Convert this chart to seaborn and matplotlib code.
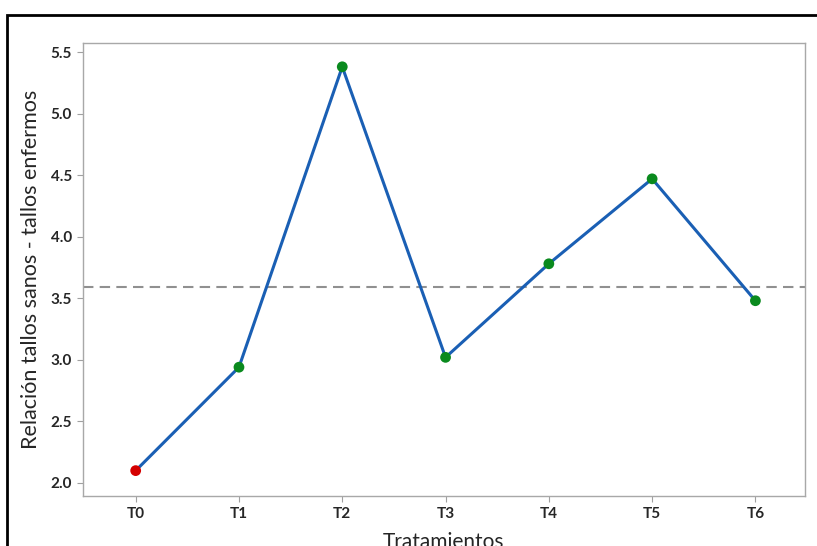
import matplotlib
matplotlib.use('Agg')
import matplotlib.pyplot as plt
import matplotlib.patches as mpatches
import seaborn as sns
import pandas as pd

# datos
tratamientos = ['T0', 'T1', 'T2', 'T3', 'T4', 'T5', 'T6']
relacion = [2.10, 2.94, 5.38, 3.02, 3.78, 4.47, 3.48]
grupo = ['bajo', 'ok', 'ok', 'ok', 'ok', 'ok', 'ok']
media = 3.592

df = pd.DataFrame({'trat': tratamientos, 'rel': relacion, 'grupo': grupo})
df['x'] = range(len(df))

sns.set_style('white')
plt.rcParams['font.family'] = ['Lato', 'DejaVu Sans']

fig = plt.figure(figsize=(8.17, 5.46), dpi=100)
ax = fig.add_axes([0.1016, 0.0916, 0.8837, 0.8296])

sns.lineplot(data=df, x='x', y='rel', color='#1a5fb4', linewidth=2.2, ax=ax, zorder=2)
sns.scatterplot(data=df, x='x', y='rel', hue='grupo',
                palette={'bajo': '#d40000', 'ok': '#0a8a1e'},
                s=60, edgecolor='none', legend=False, ax=ax, zorder=3)
ax.axhline(media, color='#909090', linestyle=(0, (5, 3)), linewidth=1.5, zorder=1)

ax.set_xlim(-0.51, 6.48)
ax.set_ylim(1.894, 5.573)
ax.set_xticks(df['x'])
ax.set_xticklabels(tratamientos)
ax.set_yticks([2.0, 2.5, 3.0, 3.5, 4.0, 4.5, 5.0, 5.5])
ax.set_yticklabels(['2.0', '2.5', '3.0', '3.5', '4.0', '4.5', '5.0', '5.5'])
for lab in ax.get_xticklabels() + ax.get_yticklabels():
    lab.set_fontweight('bold')
    lab.set_fontsize(11)
ax.tick_params(axis='both', direction='out', length=4, width=0.8,
               color='#a0a0a0', bottom=True, left=True, pad=4)

for sp in ax.spines.values():
    sp.set_color('#a8a8a8')
    sp.set_linewidth(1.0)

ax.set_xlabel('Tratamientos', fontsize=15, labelpad=8)
ax.set_ylabel('Relación tallos sanos - tallos enfermos', fontsize=15.5, labelpad=7)

# marco negro de la captura
fig.add_artist(mpatches.Rectangle((7 / 817, -0.1), 1.2, 1 - 15 / 546 + 0.1,
                                  transform=fig.transFigure, fill=False,
                                  edgecolor='black', linewidth=2))

fig.savefig('out.png', dpi=100)
